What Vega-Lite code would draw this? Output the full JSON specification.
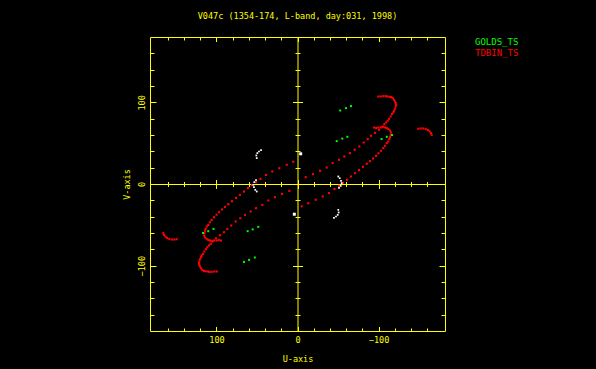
{
  "$schema": "https://vega.github.io/schema/vega-lite/v6.json",
  "width": 295,
  "height": 294,
  "autosize": {"type": "none"},
  "padding": {"left": 150, "top": 37, "right": 151, "bottom": 38},
  "background": "#000000",
  "title": {"text": "V047c (1354-174, L-band, day:031, 1998)", "color": "#ffff00", "font": "DejaVu Sans Mono", "fontSize": 8.5, "fontWeight": "normal", "anchor": "middle", "offset": 16},
  "data": {"values": [
    {"s":"TDBIN_TS","u":-99.7,"v":107.1},{"s":"TDBIN_TS","u":-102.7,"v":107.1},{"s":"TDBIN_TS","u":-105.9,"v":107.6},{"s":"TDBIN_TS","u":-108.8,"v":107.6},{"s":"TDBIN_TS","u":-110.8,"v":107.1},{"s":"TDBIN_TS","u":-113.3,"v":106.8},{"s":"TDBIN_TS","u":-115.4,"v":106.4},{"s":"TDBIN_TS","u":-117.5,"v":105.2},{"s":"TDBIN_TS","u":-119.1,"v":103.1},{"s":"TDBIN_TS","u":-120.3,"v":101.0},{"s":"TDBIN_TS","u":-121.2,"v":99.1},{"s":"TDBIN_TS","u":-121.5,"v":97.0},{"s":"TDBIN_TS","u":-121.2,"v":94.9},{"s":"TDBIN_TS","u":-120.3,"v":92.1},{"s":"TDBIN_TS","u":-119.1,"v":89.6},{"s":"TDBIN_TS","u":-118.2,"v":87.6},{"s":"TDBIN_TS","u":-116.6,"v":85.6},{"s":"TDBIN_TS","u":-115.0,"v":82.7},{"s":"TDBIN_TS","u":-112.9,"v":79.8},{"s":"TDBIN_TS","u":-111.3,"v":77.4},{"s":"TDBIN_TS","u":-109.2,"v":75.3},{"s":"TDBIN_TS","u":-107.1,"v":73.3},{"s":"TDBIN_TS","u":-105.1,"v":70.4},{"s":"TDBIN_TS","u":-100.6,"v":66.4},{"s":"TDBIN_TS","u":-95.6,"v":62.7},{"s":"TDBIN_TS","u":-90.7,"v":59.0},{"s":"TDBIN_TS","u":-86.6,"v":55.0},{"s":"TDBIN_TS","u":-81.7,"v":50.8},{"s":"TDBIN_TS","u":-76.3,"v":45.9},{"s":"TDBIN_TS","u":-70.6,"v":41.9},{"s":"TDBIN_TS","u":-64.8,"v":37.8},{"s":"TDBIN_TS","u":-57.8,"v":33.7},{"s":"TDBIN_TS","u":-51.2,"v":29.6},{"s":"TDBIN_TS","u":-43.4,"v":25.6},{"s":"TDBIN_TS","u":-36.0,"v":20.2},{"s":"TDBIN_TS","u":-27.8,"v":16.2},{"s":"TDBIN_TS","u":-19.1,"v":12.1},{"s":"TDBIN_TS","u":-10.1,"v":8.4},
    {"s":"TDBIN_TS","u":99.7,"v":-107.1},{"s":"TDBIN_TS","u":102.7,"v":-107.1},{"s":"TDBIN_TS","u":105.9,"v":-107.6},{"s":"TDBIN_TS","u":108.8,"v":-107.6},{"s":"TDBIN_TS","u":110.8,"v":-107.1},{"s":"TDBIN_TS","u":113.3,"v":-106.8},{"s":"TDBIN_TS","u":115.4,"v":-106.4},{"s":"TDBIN_TS","u":117.5,"v":-105.2},{"s":"TDBIN_TS","u":119.1,"v":-103.1},{"s":"TDBIN_TS","u":120.3,"v":-101.0},{"s":"TDBIN_TS","u":121.2,"v":-99.1},{"s":"TDBIN_TS","u":121.5,"v":-97.0},{"s":"TDBIN_TS","u":121.2,"v":-94.9},{"s":"TDBIN_TS","u":120.3,"v":-92.1},{"s":"TDBIN_TS","u":119.1,"v":-89.6},{"s":"TDBIN_TS","u":118.2,"v":-87.6},{"s":"TDBIN_TS","u":116.6,"v":-85.6},{"s":"TDBIN_TS","u":115.0,"v":-82.7},{"s":"TDBIN_TS","u":112.9,"v":-79.8},{"s":"TDBIN_TS","u":111.3,"v":-77.4},{"s":"TDBIN_TS","u":109.2,"v":-75.3},{"s":"TDBIN_TS","u":107.1,"v":-73.3},{"s":"TDBIN_TS","u":105.1,"v":-70.4},{"s":"TDBIN_TS","u":100.6,"v":-66.4},{"s":"TDBIN_TS","u":95.6,"v":-62.7},{"s":"TDBIN_TS","u":90.7,"v":-59.0},{"s":"TDBIN_TS","u":86.6,"v":-55.0},{"s":"TDBIN_TS","u":81.7,"v":-50.8},{"s":"TDBIN_TS","u":76.3,"v":-45.9},{"s":"TDBIN_TS","u":70.6,"v":-41.9},{"s":"TDBIN_TS","u":64.8,"v":-37.8},{"s":"TDBIN_TS","u":57.8,"v":-33.7},{"s":"TDBIN_TS","u":51.2,"v":-29.6},{"s":"TDBIN_TS","u":43.4,"v":-25.6},{"s":"TDBIN_TS","u":36.0,"v":-20.2},{"s":"TDBIN_TS","u":27.8,"v":-16.2},{"s":"TDBIN_TS","u":19.1,"v":-12.1},{"s":"TDBIN_TS","u":10.1,"v":-8.4},
    {"s":"TDBIN_TS","u":-94.4,"v":69.2},{"s":"TDBIN_TS","u":-97.1,"v":68.5},{"s":"TDBIN_TS","u":-99.7,"v":69.2},{"s":"TDBIN_TS","u":-102.7,"v":69.2},{"s":"TDBIN_TS","u":-105.1,"v":69.7},{"s":"TDBIN_TS","u":-108.0,"v":69.2},{"s":"TDBIN_TS","u":-110.1,"v":68.5},{"s":"TDBIN_TS","u":-112.0,"v":67.2},{"s":"TDBIN_TS","u":-114.1,"v":65.5},{"s":"TDBIN_TS","u":-115.4,"v":63.1},{"s":"TDBIN_TS","u":-115.0,"v":60.2},{"s":"TDBIN_TS","u":-114.1,"v":57.4},{"s":"TDBIN_TS","u":-113.3,"v":55.0},{"s":"TDBIN_TS","u":-112.0,"v":52.0},{"s":"TDBIN_TS","u":-110.1,"v":50.1},{"s":"TDBIN_TS","u":-108.0,"v":46.8},{"s":"TDBIN_TS","u":-105.9,"v":44.0},{"s":"TDBIN_TS","u":-103.0,"v":40.7},{"s":"TDBIN_TS","u":-100.0,"v":37.6},{"s":"TDBIN_TS","u":-96.9,"v":34.5},{"s":"TDBIN_TS","u":-93.2,"v":31.2},{"s":"TDBIN_TS","u":-89.5,"v":28.0},{"s":"TDBIN_TS","u":-85.4,"v":24.7},{"s":"TDBIN_TS","u":-80.8,"v":21.1},{"s":"TDBIN_TS","u":-75.9,"v":17.0},{"s":"TDBIN_TS","u":-71.0,"v":13.3},{"s":"TDBIN_TS","u":-66.0,"v":9.2},{"s":"TDBIN_TS","u":-61.1,"v":5.1},{"s":"TDBIN_TS","u":-56.1,"v":1.5},{"s":"TDBIN_TS","u":-51.2,"v":-2.2},{"s":"TDBIN_TS","u":-45.7,"v":-6.2},{"s":"TDBIN_TS","u":-38.9,"v":-11.1},{"s":"TDBIN_TS","u":-31.1,"v":-15.3},{"s":"TDBIN_TS","u":-22.5,"v":-19.3},{"s":"TDBIN_TS","u":-13.3,"v":-23.5},{"s":"TDBIN_TS","u":-5.2,"v":-27.3},
    {"s":"TDBIN_TS","u":94.4,"v":-69.2},{"s":"TDBIN_TS","u":97.1,"v":-68.5},{"s":"TDBIN_TS","u":99.7,"v":-69.2},{"s":"TDBIN_TS","u":102.7,"v":-69.2},{"s":"TDBIN_TS","u":105.1,"v":-69.7},{"s":"TDBIN_TS","u":108.0,"v":-69.2},{"s":"TDBIN_TS","u":110.1,"v":-68.5},{"s":"TDBIN_TS","u":112.0,"v":-67.2},{"s":"TDBIN_TS","u":114.1,"v":-65.5},{"s":"TDBIN_TS","u":115.4,"v":-63.1},{"s":"TDBIN_TS","u":115.0,"v":-60.2},{"s":"TDBIN_TS","u":114.1,"v":-57.4},{"s":"TDBIN_TS","u":113.3,"v":-55.0},{"s":"TDBIN_TS","u":112.0,"v":-52.0},{"s":"TDBIN_TS","u":110.1,"v":-50.1},{"s":"TDBIN_TS","u":108.0,"v":-46.8},{"s":"TDBIN_TS","u":105.9,"v":-44.0},{"s":"TDBIN_TS","u":103.0,"v":-40.7},{"s":"TDBIN_TS","u":100.0,"v":-37.6},{"s":"TDBIN_TS","u":96.9,"v":-34.5},{"s":"TDBIN_TS","u":93.2,"v":-31.2},{"s":"TDBIN_TS","u":89.5,"v":-28.0},{"s":"TDBIN_TS","u":85.4,"v":-24.7},{"s":"TDBIN_TS","u":80.8,"v":-21.1},{"s":"TDBIN_TS","u":75.9,"v":-17.0},{"s":"TDBIN_TS","u":71.0,"v":-13.3},{"s":"TDBIN_TS","u":66.0,"v":-9.2},{"s":"TDBIN_TS","u":61.1,"v":-5.1},{"s":"TDBIN_TS","u":56.1,"v":-1.5},{"s":"TDBIN_TS","u":51.2,"v":2.2},{"s":"TDBIN_TS","u":45.7,"v":6.2},{"s":"TDBIN_TS","u":38.9,"v":11.1},{"s":"TDBIN_TS","u":31.1,"v":15.3},{"s":"TDBIN_TS","u":22.5,"v":19.3},{"s":"TDBIN_TS","u":13.3,"v":23.5},{"s":"TDBIN_TS","u":5.2,"v":27.3},
    {"s":"TDBIN_TS","u":-149.1,"v":67.6},{"s":"TDBIN_TS","u":-152.0,"v":68.0},{"s":"TDBIN_TS","u":-155.2,"v":68.0},{"s":"TDBIN_TS","u":-158.2,"v":67.2},{"s":"TDBIN_TS","u":-161.0,"v":66.0},{"s":"TDBIN_TS","u":-163.1,"v":64.3},{"s":"TDBIN_TS","u":-164.7,"v":62.3},{"s":"TDBIN_TS","u":-165.6,"v":60.2},
    {"s":"TDBIN_TS","u":149.1,"v":-67.6},{"s":"TDBIN_TS","u":152.0,"v":-68.0},{"s":"TDBIN_TS","u":155.2,"v":-68.0},{"s":"TDBIN_TS","u":158.2,"v":-67.2},{"s":"TDBIN_TS","u":161.0,"v":-66.0},{"s":"TDBIN_TS","u":163.1,"v":-64.3},{"s":"TDBIN_TS","u":164.7,"v":-62.3},{"s":"TDBIN_TS","u":165.6,"v":-60.2},
    {"s":"GOLDS_TS","u":-52.7,"v":90.0},{"s":"GOLDS_TS","u":-59.8,"v":92.9},{"s":"GOLDS_TS","u":-66.0,"v":95.4},{"s":"GOLDS_TS","u":-48.4,"v":52.5},{"s":"GOLDS_TS","u":-55.3,"v":55.6},{"s":"GOLDS_TS","u":-61.5,"v":57.8},{"s":"GOLDS_TS","u":-103.7,"v":55.0},{"s":"GOLDS_TS","u":-110.2,"v":57.8},{"s":"GOLDS_TS","u":-116.6,"v":59.9},
    {"s":"GOLDS_TS","u":52.7,"v":-90.0},{"s":"GOLDS_TS","u":59.8,"v":-92.9},{"s":"GOLDS_TS","u":66.0,"v":-95.4},{"s":"GOLDS_TS","u":48.4,"v":-52.5},{"s":"GOLDS_TS","u":55.3,"v":-55.6},{"s":"GOLDS_TS","u":61.5,"v":-57.8},{"s":"GOLDS_TS","u":103.7,"v":-55.0},{"s":"GOLDS_TS","u":110.2,"v":-57.8},{"s":"GOLDS_TS","u":116.6,"v":-59.9},
    {"s":"other_arc","u":45.0,"v":41.5},{"s":"other_arc","u":47.5,"v":39.8},{"s":"other_arc","u":49.6,"v":37.8},{"s":"other_arc","u":50.8,"v":34.9},{"s":"other_arc","u":50.3,"v":31.7},{"s":"other_arc","u":51.2,"v":4.8},{"s":"other_arc","u":53.3,"v":2.3},{"s":"other_arc","u":54.5,"v":-1.0},{"s":"other_arc","u":53.7,"v":-3.8},{"s":"other_arc","u":52.1,"v":-7.1},{"s":"other_arc","u":50.3,"v":-9.2},
    {"s":"other_arc","u":-45.0,"v":-41.5},{"s":"other_arc","u":-47.5,"v":-39.8},{"s":"other_arc","u":-49.6,"v":-37.8},{"s":"other_arc","u":-50.8,"v":-34.9},{"s":"other_arc","u":-50.3,"v":-31.7},{"s":"other_arc","u":-51.2,"v":-4.8},{"s":"other_arc","u":-53.3,"v":-2.3},{"s":"other_arc","u":-54.5,"v":1.0},{"s":"other_arc","u":-53.7,"v":3.8},{"s":"other_arc","u":-52.1,"v":7.1},{"s":"other_arc","u":-50.3,"v":9.2},
    {"s":"other_short","u":-3.9,"v":37.0},{"s":"other_short","u":3.9,"v":-37.0}
  ]},
  "resolve": {"axis": {"x": "independent", "y": "independent"}},
  "layer": [
    {
      "transform": [{"filter": "datum.s === 'TDBIN_TS'"}],
      "mark": {"type": "square", "size": 4.5, "opacity": 1},
      "encoding": {
        "x": {"field": "u", "type": "quantitative", "scale": {"domain": [-182, 182], "reverse": true, "nice": false, "zero": false},
          "axis": {"orient": "bottom", "values": [-160,-140,-120,-100,-80,-60,-40,-20,0,20,40,60,80,100,120,140,160],
            "tickSize": {"condition": {"test": "datum.value % 100 === 0", "value": -4.5}, "value": -3},
            "labelExpr": "datum.value % 100 === 0 ? datum.label : ''", "labelFlush": false, "labelOverlap": false, "labelPadding": 8.5,
            "title": "U-axis", "titlePadding": 9}},
        "y": {"field": "v", "type": "quantitative", "scale": {"domain": [-180, 180], "nice": false, "zero": false},
          "axis": {"orient": "left", "values": [-160,-140,-120,-100,-80,-60,-40,-20,0,20,40,60,80,100,120,140,160],
            "tickSize": {"condition": {"test": "datum.value % 100 === 0", "value": -6}, "value": -4},
            "labelExpr": "datum.value % 100 === 0 ? datum.label : ''", "labelFlush": false, "labelOverlap": false,
            "labelAngle": -90, "labelAlign": "center", "labelBaseline": "bottom", "labelPadding": 9.5,
            "title": "V-axis", "titlePadding": 4}},
        "color": {"field": "s", "type": "nominal", "scale": {"domain": ["GOLDS_TS", "TDBIN_TS"], "range": ["#00ff00", "#ff0000"]},
          "legend": {"title": null, "orient": "right", "offset": 20, "symbolSize": 0, "symbolOpacity": 0, "symbolStrokeWidth": 0, "labelOffset": 0, "rowPadding": 1.7, "padding": 0,
            "labelFont": "DejaVu Sans Mono", "labelFontSize": 9,
            "encode": {"labels": {"update": {"fill": {"signal": "datum.value === 'GOLDS_TS' ? '#00ff00' : '#ff0000'"}}}}}}
      }
    },
    {
      "transform": [{"filter": "datum.s === 'GOLDS_TS'"}],
      "mark": {"type": "square", "size": 4, "opacity": 1},
      "encoding": {
        "x": {"field": "u", "type": "quantitative",
          "axis": {"orient": "top", "values": [-160,-140,-120,-100,-80,-60,-40,-20,0,20,40,60,80,100,120,140,160],
            "tickSize": {"condition": {"test": "datum.value % 100 === 0", "value": -4.5}, "value": -3},
            "labels": false, "title": null}},
        "y": {"field": "v", "type": "quantitative",
          "axis": {"orient": "right", "values": [-160,-140,-120,-100,-80,-60,-40,-20,0,20,40,60,80,100,120,140,160],
            "tickSize": {"condition": {"test": "datum.value % 100 === 0", "value": -6}, "value": -4},
            "labels": false, "title": null}},
        "color": {"field": "s", "type": "nominal"}
      }
    },
    {
      "transform": [{"filter": "datum.s === 'other_arc'"}],
      "mark": {"type": "square", "size": 3, "color": "#ffffff", "opacity": 1},
      "encoding": {
        "x": {"field": "u", "type": "quantitative",
          "axis": {"orient": "bottom", "offset": -147, "values": [-160,-140,-120,-100,-80,-60,-40,-20,0,20,40,60,80,100,120,140,160],
            "tickSize": {"condition": {"test": "datum.value % 100 === 0", "value": 4.5}, "value": 2.5},
            "labels": false, "title": null, "domain": true}},
        "y": {"field": "v", "type": "quantitative",
          "axis": {"orient": "left", "offset": -147.5, "values": [-160,-140,-120,-100,-80,-60,-40,-20,0,20,40,60,80,100,120,140,160],
            "tickSize": {"condition": {"test": "datum.value % 100 === 0", "value": 5}, "value": 2.5},
            "labels": false, "title": null, "domain": true}}
      }
    },
    {
      "transform": [{"filter": "datum.s === 'other_short'"}],
      "mark": {"type": "square", "size": 9, "color": "#ffffff", "opacity": 1},
      "encoding": {
        "x": {"field": "u", "type": "quantitative",
          "axis": {"orient": "bottom", "offset": -147, "values": [-160,-140,-120,-100,-80,-60,-40,-20,0,20,40,60,80,100,120,140,160],
            "tickSize": {"condition": {"test": "datum.value % 100 === 0", "value": -4.5}, "value": -2.5},
            "labels": false, "title": null, "domain": false}},
        "y": {"field": "v", "type": "quantitative",
          "axis": {"orient": "left", "offset": -147.5, "values": [-160,-140,-120,-100,-80,-60,-40,-20,0,20,40,60,80,100,120,140,160],
            "tickSize": {"condition": {"test": "datum.value % 100 === 0", "value": -5}, "value": -2.5},
            "labels": false, "title": null, "domain": false}}
      }
    }
  ],
  "config": {
    "view": {"stroke": null},
    "axis": {"domainColor": "#ffff00", "tickColor": "#ffff00", "labelColor": "#ffff00", "titleColor": "#ffff00", "grid": false,
      "labelFont": "DejaVu Sans Mono", "titleFont": "DejaVu Sans Mono", "labelFontSize": 8.5, "titleFontSize": 8.5, "titleFontWeight": "normal",
      "domainWidth": 1, "tickWidth": 1}
  }
}
